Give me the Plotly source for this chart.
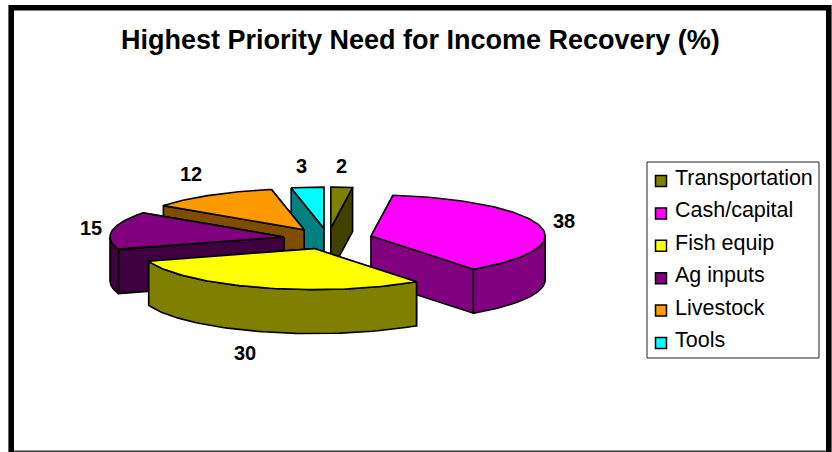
import numpy as np
import plotly.graph_objects as go

# Survey shares, in clockwise order from twelve o'clock
categories = ["Transportation", "Cash/capital", "Fish equip", "Ag inputs", "Livestock", "Tools"]
values = [2, 38, 30, 15, 12, 3]
top_colors = ["#808000", "#FF00FF", "#FFFF00", "#800080", "#FF9900", "#00FFFF"]
side_colors = ["#404000", "#800080", "#808000", "#400040", "#804C00", "#008080"]

TITLE = "Highest Priority Need for Income Recovery (%)"
FONT = "Liberation Sans, Arial, sans-serif"

# Projected pie geometry, in canvas pixels
CX, CY = 328.0, 238.6
RX, RY = 174.0, 41.0
DEPTH = 44.0
EXPLODE = 0.256
OUTLINE = 1.6

# Painter's order: rear slices first, the front slice last
DRAW_ORDER = [5, 0, 4, 3, 1, 2]

# Offsets of each value label from its slice's outer-mid point
LABEL_OFFSET = {
    "Transportation": (0, -21),
    "Cash/capital": (24, -5),
    "Fish equip": (-15, 65),
    "Ag inputs": (-21, -3),
    "Livestock": (-20, -21),
    "Tools": (-6, -21),
}

total = sum(values)
edges = np.concatenate([[0.0], np.cumsum(values)]) / total * 2 * np.pi


def project(theta, radius=1.0):
    """Offset from the slice apex for a clockwise angle measured from the top."""
    return radius * RX * np.sin(theta), -radius * RY * np.cos(theta)


def polygon(xs, ys, fill, name):
    return go.Scatter(
        x=list(xs) + [xs[0]],
        y=list(ys) + [ys[0]],
        mode="lines",
        fill="toself",
        fillcolor=fill,
        line=dict(color="black", width=OUTLINE),
        hoverinfo="skip",
        name=name,
        showlegend=False,
    )


fig = go.Figure()
annotations = []

slices = []
for i, name in enumerate(categories):
    a0, a1 = edges[i], edges[i + 1]
    mid = (a0 + a1) / 2
    dx, dy = project(mid, EXPLODE)
    slices.append((CX + dx, CY + dy, a0, a1, mid))

for i in DRAW_ORDER:
    ax, ay, a0, a1, mid = slices[i]
    name = categories[i]

    # Radial cut faces, the one nearer the viewer painted last
    for a in sorted([a0, a1], key=lambda t: -np.cos(t)):
        ox, oy = project(a)
        fig.add_trace(polygon(
            [ax, ax + ox, ax + ox, ax],
            [ay, ay + oy, ay + oy + DEPTH, ay + DEPTH],
            side_colors[i], name,
        ))

    # Outer wall, only where the rim faces forward
    lo, hi = max(a0, np.pi / 2), min(a1, 3 * np.pi / 2)
    if hi > lo:
        t = np.linspace(lo, hi, 60)
        ox, oy = project(t)
        fig.add_trace(polygon(
            np.concatenate([ax + ox, (ax + ox)[::-1]]),
            np.concatenate([ay + oy, (ay + oy + DEPTH)[::-1]]),
            side_colors[i], name,
        ))

    # Top face
    t = np.linspace(a0, a1, 80)
    ox, oy = project(t)
    fig.add_trace(polygon(
        np.concatenate([[ax], ax + ox]),
        np.concatenate([[ay], ay + oy]),
        top_colors[i], name,
    ))

    # Value label
    ox, oy = project(mid)
    off = LABEL_OFFSET[name]
    annotations.append(dict(
        x=ax + ox + off[0], y=ay + oy + off[1], text=f"<b>{values[i]}</b>",
        xref="x", yref="y", showarrow=False, xanchor="center", yanchor="middle",
        font=dict(family=FONT, size=20, color="black"),
    ))

# Legend panel
LEG_X0, LEG_X1, LEG_Y0, LEG_Y1 = 647, 819, 162, 358
LEG_FIRST, LEG_STEP = 181, 32.4
shapes = [
    dict(type="rect", xref="x", yref="y", x0=LEG_X0, x1=LEG_X1, y0=LEG_Y0, y1=LEG_Y1,
         line=dict(color="#222222", width=1), fillcolor="white", layer="below"),
    # Thin grey hairline just above the bottom of the frame, then the heavy frame
    dict(type="line", xref="x", yref="y", x0=14, x1=826, y0=450.5, y1=450.5,
         line=dict(color="#999999", width=1)),
    dict(type="rect", xref="x", yref="y", x0=11.2, x1=828.8, y0=7.8, y1=454,
         line=dict(color="black", width=5.6), fillcolor="rgba(0,0,0,0)"),
]
legend_y = [LEG_FIRST + k * LEG_STEP for k in range(len(categories))]
fig.add_trace(go.Scatter(
    x=[661] * len(categories),
    y=legend_y,
    mode="markers",
    marker=dict(symbol="square", size=11, color=top_colors, line=dict(color="black", width=1.5)),
    hoverinfo="skip",
    showlegend=False,
))
for name, y in zip(categories, legend_y):
    annotations.append(dict(
        x=673, y=y - 3, text=name, xref="x", yref="y", showarrow=False,
        xanchor="left", yanchor="middle",
        font=dict(family=FONT, size=21.5, color="black"),
    ))

annotations.append(dict(
    x=420.5, y=40, text=f"<b>{TITLE}</b>", xref="x", yref="y", showarrow=False,
    xanchor="center", yanchor="middle",
    font=dict(family=FONT, size=27, color="black"),
))

fig.update_layout(
    width=832,
    height=452,
    margin=dict(l=0, r=0, t=0, b=0),
    paper_bgcolor="white",
    plot_bgcolor="white",
    showlegend=False,
    xaxis=dict(range=[0, 832], visible=False, fixedrange=True),
    yaxis=dict(range=[452, 0], visible=False, fixedrange=True),
    shapes=shapes,
    annotations=annotations,
)

fig.write_html("out.html", config=dict(displayModeBar=False))
